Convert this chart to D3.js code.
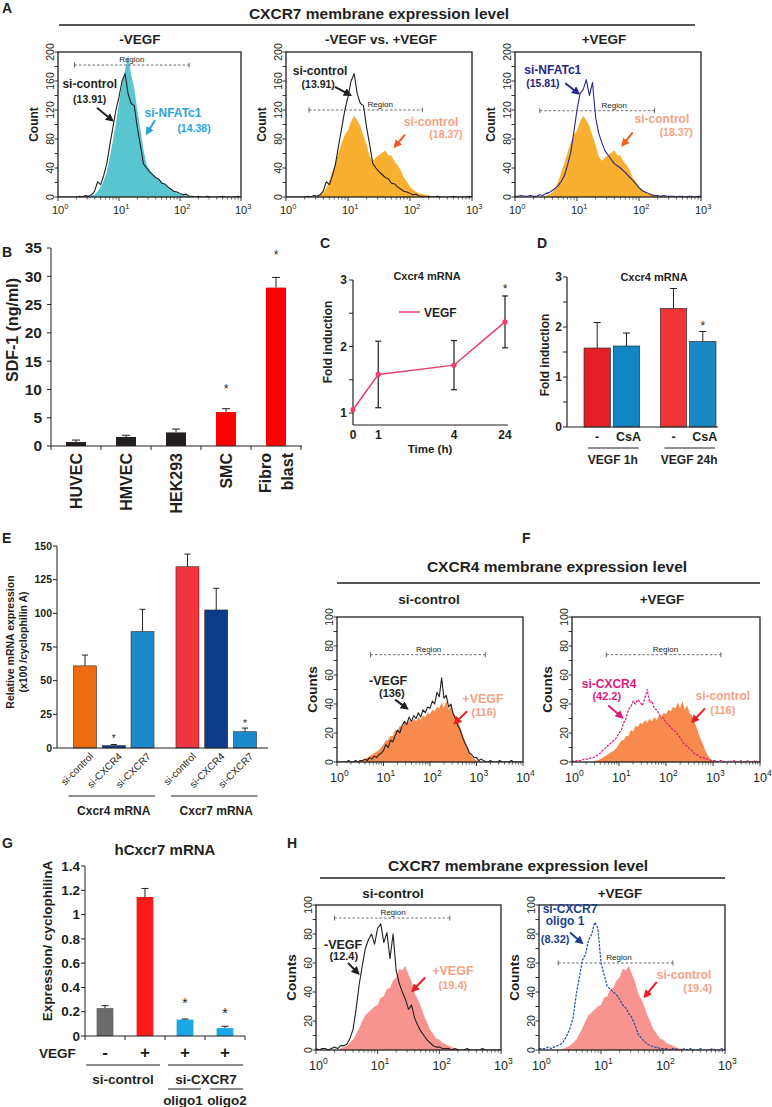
<!DOCTYPE html>
<html>
<head>
<meta charset="utf-8">
<script src="https://cdn.jsdelivr.net/npm/d3@7"></script>
<style>
  body { margin: 0; background: #fff; }
  svg { display: block; font-family: "Liberation Sans", Arial, Helvetica, sans-serif; }
</style>
</head>
<body>
<svg id="fig" width="772" height="1107"></svg>
<script>
// ---- flow histograms: counts on a 0.05-decade grid starting at 10^0 ----
const LOG_STEP = 0.05;

// A: CXCR7, 3 decades
const histA_control = [0,0,0,0,0,0,0,1,0,2, 1,3,8,21,17,30,46,72,96,120, 138,160,170,142,129,126,96,72,46,40,
  35,31,27,25,19,18,14,11,8,7, 5,3,4,1,1,0,1,0,0,1, 0,0,0,0,1,0,0,0,0,1, 0];
const histA_nfat = [0,0,0,0,0,0,0,0,0,1, 1,2,3,8,14,22,35,55,78,102, 130,156,176,196,168,150,120,94,66,46,
  38,32,28,25,22,18,15,11,8,6, 4,3,2,1,1,0,0,0,0,0, 0,0,0,0,0,0,0,0,0,0, 0];
const histA_controlVegf = [0,0,0,0,0,0,0,0,0,0, 1,3,6,12,22,35,48,62,75,86, 92,104,112,106,98,84,72,56,50,54,
  58,61,64,58,57,49,44,37,27,21, 14,10,7,5,4,3,2,1,1,0, 0,0,0,0,0,0,0,0,0,0, 0];
const histA_nfatVegf = [1,1,2,1,1,2,1,1,3,2, 5,6,9,12,16,22,30,45,62,90, 120,143,148,162,140,158,110,88,75,64,
  58,52,46,43,40,36,32,27,23,18, 13,9,7,5,3,2,2,1,2,1, 1,1,0,1,1,0,1,1,0,1, 1];

// F: CXCR4, 4 decades
const histF_minus = [0,0,0,0,0,1,0,0,1,0, 1,1,2,1,3,2,4,3,5,6, 8,12,10,15,14,18,22,20,25,28,
  26,31,28,32,30,34,31,36,34,38, 37,42,40,48,45,58,44,46,38,40, 33,30,25,22,17,13,10,6,5,3,
  3,1,2,1,0,0,1,0,0,0, 1,0,0,0,0,1,0,0,0,0, 0];
const histF_plus = [0,0,0,0,0,0,0,0,0,0, 1,1,2,3,4,5,6,7,8,10, 12,15,15,18,18,22,21,25,24,27,
  26,29,27,30,28,31,29,32,31,34, 33,36,35,38,37,41,37,42,36,39, 34,32,28,24,19,15,11,7,4,2,
  1,1,0,0,0,0,0,0,0,0, 0,0,0,0,0,0,0,0,0,0, 0];
const histF_siCxcr4 = [1,0,1,1,1,2,2,2,3,3, 4,5,6,8,9,11,12,14,15,17, 20,22,27,30,36,38,42,40,43,41,
  39,44,50,41,42,37,36,33,31,30, 27,26,24,22,21,19,17,14,12,11, 9,8,6,5,4,3,3,2,2,1,
  1,1,0,1,1,0,0,1,0,1, 0,0,1,0,0,1,0,0,1,0, 0];

// H: CXCR7 knock-down, 3 decades
const histH_minus = [1,0,1,1,0,1,2,1,3,3, 4,8,14,28,45,58,70,76,80,73, 84,87,74,81,63,80,55,46,40,35,
  28,31,22,17,13,10,7,5,3,2, 2,1,1,1,0,1,0,0,0,1, 0,0,0,0,1,0,0,0,0,0, 0];
const histH_plus = [0,0,0,0,0,0,0,0,1,2, 3,5,7,11,15,20,24,26,28,30, 31,36,37,42,43,48,50,56,55,58,
  52,47,39,35,30,24,19,14,11,8, 7,5,4,3,2,1,1,0,0,0, 0,0,0,0,0,0,0,0,0,0, 0];
const histH_oligo1 = [1,1,1,2,1,2,3,4,6,10, 15,22,38,50,62,66,76,80,88,84, 60,52,44,42,40,38,35,31,29,25,
  22,17,11,8,6,4,3,2,2,1, 1,1,0,1,1,0,0,1,0,1, 0,0,1,0,0,0,1,0,0,1, 0];

// B: SDF-1 secretion
const sdfCells = ["HUVEC", "HMVEC", "HEK293", "SMC", "Fibro blast"];
const sdfValues = [0.7, 1.6, 2.4, 6.0, 28.0];
const sdfErrTop = [1.05, 1.9, 3.0, 6.6, 29.8];
const sdfStars = [null, null, null, 10.3, 34.0];
const sdfTicks = [0, 5, 10, 15, 20, 25, 30, 35];

// C: Cxcr4 mRNA time course
const cTimes = [0, 1, 4, 24];
const cMeans = [1.05, 1.58, 1.72, 2.37];
const cErr = [0, 0.5, 0.37, 0.39];
const cTicks = [1, 1.5, 2, 2.5, 3];

// D: Cxcr4 mRNA with CsA
const dGroups = ["VEGF 1h", "VEGF 24h"];
const dTreatments = ["-", "CsA"];
const dValues = [[1.58, 1.62], [2.37, 1.71]];
const dErrTop = [[2.09, 1.88], [2.77, 1.91]];
const dStars = [[null, null], [null, 2.05]];
const dTicks = [0, 0.5, 1, 1.5, 2, 2.5, 3];

// E: relative mRNA expression
const eGroups = ["Cxcr4 mRNA", "Cxcr7 mRNA"];
const eSirna = ["si-control", "si-CXCR4", "si-CXCR7"];
const eValues = [[61, 1.8, 86.5], [134.6, 102.5, 12.1]];
const eErrTop = [[69, 2.6, 103], [144, 118.6, 14.8]];
const eStars = [[null, 7.4, null], [null, null, 18.8]];
const eTicks = [0, 25, 50, 75, 100, 125, 150];

// G: hCxcr7 mRNA
const gBars = ["ctrl-", "ctrl+", "oligo1", "oligo2"];
const gVegf = ["-", "+", "+", "+"];
const gValues = [0.23, 1.145, 0.135, 0.065];
const gErrTop = [0.25, 1.215, 0.14, 0.08];
const gStars = [null, null, 0.28, 0.195];
const gTicks = [0, 0.2, 0.4, 0.6, 0.8, 1, 1.2, 1.4];

// ---- colours ----
const INK = "#231f20";
const CYAN_FILL = "#58c5cf";
const CYAN_TEXT = "#27a6dc";
const ORANGE_A = "#f9b031";
const SALMON = "#f7a284";
const ORANGE_ARROW = "#f15a22";
const NAVY = "#25288a";
const ORANGE_F = "#f78b4e";
const MAGENTA = "#e4197c";
const PINK_H = "#f7948f";
const RED = "#ec1c24";
const BLUE_H = "#1f4f9f";
const NAVY_H = "#1e3f8f";
const sdfPalette = [INK, INK, INK, "#ff0000", "#ff0000"];
const dPalette = [["#e41f26", "#1085c2"], ["#ef3535", "#1a87c4"]];
const ePalette = [["#ef6b0f", "#0c3b8c", "#1b8acb"], ["#f2343f", "#0c3b8c", "#1b8acb"]];
const gPalette = ["#6b6b6b", "#ff1a1a", "#1aa7e6", "#1aa7e6"];

const svg = d3.select("#fig");
const defs = svg.append("defs");

function label(parent, x, y, str, o = {}) {
  const t = parent.append("text")
    .attr("x", x)
    .attr("y", y)
    .attr("font-size", o.size || 12)
    .attr("font-weight", o.weight || "bold")
    .attr("text-anchor", o.anchor || "middle")
    .attr("fill", o.color || INK)
    .text(str);
  if (o.rotate) t.attr("transform", `rotate(${o.rotate},${x},${y})`);
  if (o.dy) t.attr("dy", o.dy);
  return t;
}

function line(parent, x1, y1, x2, y2, o = {}) {
  return parent.append("line")
    .attr("x1", x1).attr("y1", y1).attr("x2", x2).attr("y2", y2)
    .attr("stroke", o.color || INK)
    .attr("stroke-width", o.width || 1)
    .attr("stroke-dasharray", o.dash || null);
}

function arrowMarker(color) {
  const id = "arrow-" + color.replace("#", "");
  if (defs.select("#" + id).empty()) {
    defs.append("marker")
      .attr("id", id)
      .attr("viewBox", "0 0 10 10")
      .attr("refX", 7)
      .attr("refY", 5)
      .attr("markerWidth", 4.2)
      .attr("markerHeight", 4.2)
      .attr("orient", "auto")
      .append("path")
      .attr("d", "M0,0 L10,5 L0,10 z")
      .attr("fill", color);
  }
  return id;
}

function errorBar(g, cx, yTop, yEnd, cap) {
  line(g, cx, yTop, cx, yEnd, { width: 1 });
  line(g, cx - cap, yEnd, cx + cap, yEnd, { width: 1 });
}

function groupTitle(title, cx, ty, lineY, x1, x2, subs) {
  const g = svg.append("g");
  label(g, cx, ty, title, { size: 15.5 });
  line(g, x1, lineY, x2, lineY, { width: 1.3 });
  subs.forEach((s) => label(g, s.x, s.y, s.text, { size: 13.5 }));
}

function drawHistogram(cfg) {
  const g = svg.append("g");
  const x = d3.scaleLinear().domain([0, cfg.decades]).range([cfg.left, cfg.right]);
  const y = d3.scaleLinear().domain([0, cfg.yMax]).range([cfg.bottom, cfg.top]);

  const clipId = `clip-${cfg.id}`;
  defs.append("clipPath").attr("id", clipId)
    .append("rect")
    .attr("x", cfg.left).attr("y", cfg.top)
    .attr("width", cfg.right - cfg.left).attr("height", cfg.bottom - cfg.top);

  const plot = g.append("g").attr("clip-path", `url(#${clipId})`);
  const px = (d, i) => x(i * LOG_STEP);

  cfg.layers.forEach((layer) => {
    if (layer.fill) {
      plot.append("path").datum(layer.counts)
        .attr("d", d3.area().x(px).y0(y(0)).y1((d) => y(d)))
        .attr("fill", layer.fill);
    } else {
      plot.append("path").datum(layer.counts)
        .attr("d", d3.line().x(px).y((d) => y(d)))
        .attr("fill", "none")
        .attr("stroke", layer.stroke)
        .attr("stroke-width", layer.width || 1.1)
        .attr("stroke-dasharray", layer.dash || null)
        .attr("stroke-linejoin", "round");
    }
  });

  // region marker
  const r = cfg.region;
  line(g, x(r.from), y(r.level), x(r.to), y(r.level), { color: "#444", width: 0.8, dash: "2.5,2" });
  line(g, x(r.from), y(r.level) - 2.5, x(r.from), y(r.level) + 2.5, { color: "#444", width: 0.8 });
  line(g, x(r.to), y(r.level) - 2.5, x(r.to), y(r.level) + 2.5, { color: "#444", width: 0.8 });
  label(g, x(r.labelAt), y(r.level) - 3, "Region", { size: 8, weight: "normal" });

  // frame
  g.append("rect")
    .attr("x", cfg.left).attr("y", cfg.top)
    .attr("width", cfg.right - cfg.left).attr("height", cfg.bottom - cfg.top)
    .attr("fill", "none").attr("stroke", INK).attr("stroke-width", 1.3);

  // y ticks
  const yTicks = d3.range(0, cfg.yMax + 1, cfg.yMinor);
  yTicks.forEach((v) => line(g, cfg.left - 3.5, y(v), cfg.left, y(v), { width: 0.9 }));
  yTicks.filter((v) => v % cfg.yLabelStep === 0).forEach((v) => {
    label(g, cfg.left - 4, y(v), String(v), { size: 10.5, weight: "normal", rotate: -90 });
  });
  label(g, cfg.left - 20, (cfg.top + cfg.bottom) / 2, cfg.ylabel, { size: cfg.ylabelSize, rotate: -90 });

  // x ticks (log)
  for (let d = 0; d <= cfg.decades; d++) {
    line(g, x(d), cfg.bottom, x(d), cfg.bottom + 4, { width: 0.9 });
    if (d < cfg.decades) {
      for (let k = 2; k <= 9; k++) {
        const xv = x(d + Math.log10(k));
        line(g, xv, cfg.bottom, xv, cfg.bottom + 2.5, { width: 0.7 });
      }
    }
    const fs = cfg.xLabelSize;
    const t = g.append("text")
      .attr("x", x(d) - 0.556 * fs)
      .attr("y", cfg.bottom + cfg.xLabelDy)
      .attr("font-size", fs)
      .attr("fill", INK);
    t.append("tspan").text("10");
    t.append("tspan").attr("dy", -fs * 0.45).attr("font-size", fs * 0.68).text(d);
  }

  // annotations
  cfg.notes.forEach((n) => {
    label(g, x(n.at[0]), y(n.at[1]), n.text, { size: n.size || 12, color: n.color || INK });
  });
  cfg.arrows.forEach((a) => {
    const c = a.color || INK;
    line(g, x(a.from[0]), y(a.from[1]), x(a.to[0]), y(a.to[1]), { color: c, width: 2 })
      .attr("marker-end", `url(#${arrowMarker(c)})`);
  });
}

// ---------------- A ----------------
function drawPanelA() {
  groupTitle("CXCR7 membrane expression level", 379, 19, 25, 59, 695, [
    { text: "-VEGF", x: 140, y: 44 },
    { text: "-VEGF vs. +VEGF", x: 381, y: 44 },
    { text: "+VEGF", x: 604, y: 44 }
  ]);
  const base = { top: 52, bottom: 197, decades: 3, yMax: 200, yMinor: 20, yLabelStep: 40,
    ylabel: "Count", ylabelSize: 12, xLabelSize: 11, xLabelDy: 17 };

  drawHistogram({ ...base, id: "a1", left: 58, right: 241,
    layers: [{ counts: histA_nfat, fill: CYAN_FILL }, { counts: histA_control, stroke: INK }],
    region: { from: 0.27, to: 2.15, level: 182, labelAt: 1.21 },
    notes: [
      { text: "si-control", at: [0.52, 150] },
      { text: "(13.91)", at: [0.52, 129], size: 10.5 },
      { text: "si-NFATc1", at: [1.885, 110], color: CYAN_TEXT },
      { text: "(14.38)", at: [2.23, 90], color: CYAN_TEXT, size: 10.5 }
    ],
    arrows: [
      { from: [0.64, 123], to: [0.885, 106] },
      { from: [1.59, 106], to: [1.46, 88], color: CYAN_TEXT }
    ]
  });

  drawHistogram({ ...base, id: "a2", left: 286, right: 472,
    layers: [{ counts: histA_controlVegf, fill: ORANGE_A }, { counts: histA_control, stroke: INK }],
    region: { from: 0.37, to: 2.2, level: 120, labelAt: 1.52 },
    notes: [
      { text: "si-control", at: [0.55, 168] },
      { text: "(13.91)", at: [0.52, 150], size: 10.5 },
      { text: "si-control", at: [2.34, 98], color: SALMON },
      { text: "(18.37)", at: [2.58, 81], color: SALMON, size: 10.5 }
    ],
    arrows: [
      { from: [0.79, 152], to: [1.03, 141] },
      { from: [1.92, 86], to: [1.76, 70], color: ORANGE_ARROW }
    ]
  });

  drawHistogram({ ...base, id: "a3", left: 515, right: 701,
    layers: [{ counts: histA_controlVegf, fill: ORANGE_A }, { counts: histA_nfatVegf, stroke: NAVY }],
    region: { from: 0.4, to: 2.25, level: 119, labelAt: 1.6 },
    notes: [
      { text: "si-NFATc1", at: [0.61, 169], color: NAVY },
      { text: "(15.81)", at: [0.45, 152], color: NAVY, size: 10.5 },
      { text: "si-control", at: [2.37, 102], color: SALMON },
      { text: "(18.37)", at: [2.6, 84], color: SALMON, size: 10.5 }
    ],
    arrows: [
      { from: [0.81, 157], to: [1.02, 143], color: NAVY },
      { from: [1.9, 89], to: [1.74, 72], color: ORANGE_ARROW }
    ]
  });
}

// ---------------- B ----------------
function drawPanelB() {
  const g = svg.append("g");
  const x = d3.scaleBand().domain(sdfCells).range([51, 301]).paddingInner(0.6).paddingOuter(0.3);
  const y = d3.scaleLinear().domain([0, 35]).range([446, 248]);

  g.selectAll("rect").data(sdfCells).join("rect")
    .attr("x", (d) => x(d))
    .attr("width", x.bandwidth())
    .attr("y", (d, i) => y(sdfValues[i]))
    .attr("height", (d, i) => y(0) - y(sdfValues[i]))
    .attr("fill", (d, i) => sdfPalette[i]);

  sdfCells.forEach((d, i) => {
    const cx = x(d) + x.bandwidth() / 2;
    errorBar(g, cx, y(sdfValues[i]), y(sdfErrTop[i]), 4);
    if (sdfStars[i] !== null) label(g, cx, y(sdfStars[i]) + 5, "*", { size: 12, weight: "normal" });
    const parts = d.split(" ");
    parts.forEach((p, j) => {
      const lx = cx + (j - (parts.length - 1) / 2) * 22;
      label(g, lx, 453, p, { size: 16, anchor: "end", rotate: -90, dy: "0.35em" });
    });
  });

  line(g, 51, y(0), 51, y(35), { width: 1 });
  line(g, 51, y(0), 302, y(0), { width: 1 });
  sdfTicks.forEach((v) => {
    line(g, 47, y(v), 51, y(v));
    label(g, 42, y(v), String(v), { size: 15.5, anchor: "end", dy: "0.35em" });
  });
  d3.range(sdfCells.length + 1).forEach((i) => {
    const xv = x.range()[0] + i * x.step();
    line(g, xv, y(0), xv, y(0) + 4);
  });
  label(g, 12, 330, "SDF-1 (ng/ml)", { size: 16, rotate: -90, dy: "0.35em" });
}

// ---------------- C ----------------
function drawPanelC() {
  const g = svg.append("g");
  const x = d3.scaleLinear().domain([0, 4, 24]).range([353, 454, 505]);
  const y = d3.scaleLinear().domain([0.82, 3]).range([425, 280]);

  label(g, 427, 280, "Cxcr4 mRNA", { size: 11 });
  line(g, 353, y(0.82), 353, y(3), { width: 1.2 });
  line(g, 353, y(0.82), 508, y(0.82), { width: 1.2 });
  cTicks.forEach((v) => {
    line(g, 349, y(v), 353, y(v));
    if (Number.isInteger(v)) label(g, 347, y(v), String(v), { size: 12, anchor: "end", dy: "0.35em" });
  });
  cTimes.forEach((t) => label(g, x(t), 438.5, String(t), { size: 12 }));
  label(g, 430, 452.5, "Time (h)", { size: 11.5 });
  label(g, 328, 342, "Fold induction", { size: 12, rotate: -90, dy: "0.35em" });

  cTimes.forEach((t, i) => {
    if (cErr[i] > 0) {
      line(g, x(t), y(cMeans[i] - cErr[i]), x(t), y(cMeans[i] + cErr[i]), { width: 1.2 });
      line(g, x(t) - 3, y(cMeans[i] - cErr[i]), x(t) + 3, y(cMeans[i] - cErr[i]), { width: 1.2 });
      line(g, x(t) - 3, y(cMeans[i] + cErr[i]), x(t) + 3, y(cMeans[i] + cErr[i]), { width: 1.2 });
    }
  });
  const pts = cTimes.map((t, i) => [t, cMeans[i]]);
  g.append("path").datum(pts)
    .attr("d", d3.line().x((d) => x(d[0])).y((d) => y(d[1])))
    .attr("fill", "none").attr("stroke", "#e8426a").attr("stroke-width", 1.5);
  g.selectAll("circle").data(pts).join("circle")
    .attr("cx", (d) => x(d[0])).attr("cy", (d) => y(d[1])).attr("r", 2.6).attr("fill", "#e8426a");
  label(g, x(24), y(2.88) + 5, "*", { size: 12, weight: "normal" });

  line(g, 399, 312, 420, 312, { color: "#e8426a", width: 1.5 });
  label(g, 424, 316.5, "VEGF", { size: 12, anchor: "start" });
}

// ---------------- D ----------------
function drawPanelD() {
  const g = svg.append("g");
  const xg = d3.scaleBand().domain(dGroups).range([584, 716]).paddingInner(0.27);
  const xt = d3.scaleBand().domain(dTreatments).range([0, xg.bandwidth()]).paddingInner(0.1);
  const y = d3.scaleLinear().domain([0, 3]).range([427, 277]);

  label(g, 654, 281, "Cxcr4 mRNA", { size: 11 });

  dGroups.forEach((grp, gi) => {
    dTreatments.forEach((tr, ti) => {
      const bx = xg(grp) + xt(tr);
      const cx = bx + xt.bandwidth() / 2;
      g.append("rect")
        .attr("x", bx).attr("width", xt.bandwidth())
        .attr("y", y(dValues[gi][ti])).attr("height", y(0) - y(dValues[gi][ti]))
        .attr("fill", dPalette[gi][ti]).attr("stroke", "#333").attr("stroke-width", 0.7);
      errorBar(g, cx, y(dValues[gi][ti]), y(dErrTop[gi][ti]), 3.5);
      if (dStars[gi][ti] !== null) label(g, cx, y(dStars[gi][ti]) + 5, "*", { size: 12, weight: "normal" });
      label(g, cx + (ti === 1 ? 2 : 0), 441, tr, { size: 12.5 });
    });
    line(g, xg(grp) + 4, 448, xg(grp) + xg.bandwidth() - 1, 448, { width: 1 });
    label(g, xg(grp) + xg.bandwidth() / 2 + 1, 464, grp, { size: 12 });
  });

  line(g, 567, y(0), 567, y(3), { width: 1.2 });
  line(g, 567, y(0), 718, y(0), { width: 1.2 });
  dTicks.forEach((v) => {
    line(g, 563, y(v), 567, y(v));
    if (Number.isInteger(v)) label(g, 562, y(v), String(v), { size: 12, anchor: "end", dy: "0.35em" });
  });
  label(g, 545, 355, "Fold induction", { size: 12, rotate: -90, dy: "0.35em" });
}

// ---------------- E ----------------
function drawPanelE() {
  const g = svg.append("g");
  const xg = d3.scaleBand().domain(eGroups).range([73.5, 256.5]).paddingInner(0.214);
  const xs = d3.scaleBand().domain(eSirna).range([0, xg.bandwidth()]).paddingInner(0.2);
  const y = d3.scaleLinear().domain([0, 150]).range([748, 546]);

  eGroups.forEach((grp, gi) => {
    eSirna.forEach((s, si) => {
      const bx = xg(grp) + xs(s);
      const cx = bx + xs.bandwidth() / 2;
      g.append("rect")
        .attr("x", bx).attr("width", xs.bandwidth())
        .attr("y", y(eValues[gi][si])).attr("height", y(0) - y(eValues[gi][si]))
        .attr("fill", ePalette[gi][si]).attr("stroke", "#333").attr("stroke-width", 0.6);
      errorBar(g, cx, y(eValues[gi][si]), y(eErrTop[gi][si]), 3);
      if (eStars[gi][si] !== null) label(g, cx, y(eStars[gi][si]) + 4, "*", { size: 10, weight: "normal" });
      label(g, cx + 9, 757, s, { size: 10, weight: "normal", anchor: "end", rotate: -45 });
    });
    line(g, xg(grp) - 5, 796, xg(grp) + xg.bandwidth() + 1, 796, { width: 1 });
    label(g, xg(grp) + xg.bandwidth() / 2, 815, grp, { size: 12 });
  });

  line(g, 57, y(0), 57, y(150), { width: 1 });
  line(g, 57, y(0), 268, y(0), { width: 1 });
  eTicks.forEach((v) => {
    line(g, 53, y(v), 57, y(v));
    label(g, 52, y(v), String(v), { size: 10.5, anchor: "end", dy: "0.35em" });
  });
  label(g, 10, 642, "Relative mRNA expression", { size: 10.5, rotate: -90, dy: "0.35em" });
  label(g, 23, 642, "(x100 /cyclophilin A)", { size: 10.5, rotate: -90, dy: "0.35em" });
}

// ---------------- F ----------------
function drawPanelF() {
  groupTitle("CXCR4 membrane expression level", 557, 572, 583, 337, 760, [
    { text: "si-control", x: 429, y: 604 },
    { text: "+VEGF", x: 662, y: 604 }
  ]);
  const base = { top: 617, bottom: 762, decades: 4, yMax: 100, yMinor: 10, yLabelStep: 20,
    ylabel: "Counts", ylabelSize: 13.5, xLabelSize: 12.5, xLabelDy: 20 };

  drawHistogram({ ...base, id: "f1", left: 337, right: 523,
    layers: [{ counts: histF_plus, fill: ORANGE_F }, { counts: histF_minus, stroke: INK }],
    region: { from: 0.72, to: 3.19, level: 74, labelAt: 1.97 },
    notes: [
      { text: "-VEGF", at: [1.1, 53], size: 12.5 },
      { text: "(136)", at: [1.18, 45], size: 11 },
      { text: "+VEGF", at: [3.14, 41], color: SALMON, size: 12.5 },
      { text: "(116)", at: [3.16, 32], color: SALMON, size: 11 }
    ],
    arrows: [
      { from: [1.25, 43], to: [1.5, 37] },
      { from: [2.8, 35], to: [2.54, 27], color: RED }
    ]
  });

  drawHistogram({ ...base, id: "f2", left: 572, right: 760,
    layers: [{ counts: histF_plus, fill: ORANGE_F }, { counts: histF_siCxcr4, stroke: MAGENTA, dash: "2.5,1.2", width: 1.2 }],
    region: { from: 0.73, to: 3.17, level: 74, labelAt: 1.99 },
    notes: [
      { text: "si-CXCR4", at: [0.79, 51], color: MAGENTA },
      { text: "(42.2)", at: [0.74, 43], color: MAGENTA, size: 11 },
      { text: "si-control", at: [3.21, 43], color: SALMON },
      { text: "(116)", at: [3.21, 33], color: SALMON, size: 11 }
    ],
    arrows: [
      { from: [0.77, 39], to: [1.06, 31], color: MAGENTA },
      { from: [2.83, 37], to: [2.57, 28], color: RED }
    ]
  });
}

// ---------------- G ----------------
function drawPanelG() {
  const g = svg.append("g");
  const x = d3.scaleBand().domain(gBars).range([85, 245]).paddingInner(0.58).paddingOuter(0.29);
  const y = d3.scaleLinear().domain([0, 1.4]).range([1036, 866]);

  label(g, 165, 855, "hCxcr7 mRNA", { size: 15 });

  g.selectAll("rect").data(gBars).join("rect")
    .attr("x", (d) => x(d)).attr("width", x.bandwidth())
    .attr("y", (d, i) => y(gValues[i])).attr("height", (d, i) => y(0) - y(gValues[i]))
    .attr("fill", (d, i) => gPalette[i]);

  gBars.forEach((d, i) => {
    const cx = x(d) + x.bandwidth() / 2;
    errorBar(g, cx, y(gValues[i]), y(gErrTop[i]), 3.5);
    if (gStars[i] !== null) label(g, cx, y(gStars[i]) + 6, "*", { size: 14, weight: "normal" });
    label(g, cx, 1058, gVegf[i], { size: 17 });
  });

  line(g, 85, y(0), 85, y(1.4), { width: 1 });
  line(g, 85, y(0), 245, y(0), { width: 1 });
  gTicks.forEach((v) => {
    line(g, 81, y(v), 85, y(v));
    label(g, 80, y(v), String(v), { size: 13.5, anchor: "end", dy: "0.35em" });
  });
  d3.range(gBars.length + 1).forEach((i) => {
    const xv = x.range()[0] + i * x.step();
    line(g, xv, y(0), xv, y(0) + 4);
  });

  label(g, 39, 1058, "VEGF", { size: 13.5, anchor: "start" });
  line(g, 86, 1065, 160, 1065);
  line(g, 168, 1065, 243, 1065);
  label(g, 123, 1084, "si-control", { size: 13.5 });
  label(g, 206, 1084, "si-CXCR7", { size: 13.5 });
  line(g, 168, 1089, 201, 1089);
  line(g, 210, 1089, 243, 1089);
  label(g, 183, 1105, "oligo1", { size: 13.5 });
  label(g, 227, 1105, "oligo2", { size: 13.5 });
  label(g, 47, 941, "Expression/ cyclophilinA", { size: 13.5, rotate: -90, dy: "0.35em" });
}

// ---------------- H ----------------
function drawPanelH() {
  groupTitle("CXCR7 membrane expression level", 518, 871, 878, 320, 725, [
    { text: "si-control", x: 393, y: 898 },
    { text: "+VEGF", x: 620, y: 898 }
  ]);
  const base = { top: 905, bottom: 1050, decades: 3, yMax: 100, yMinor: 10, yLabelStep: 20,
    ylabel: "Counts", ylabelSize: 13.5, xLabelSize: 12.5, xLabelDy: 20 };

  drawHistogram({ ...base, id: "h1", left: 316, right: 501,
    layers: [{ counts: histH_plus, fill: PINK_H }, { counts: histH_minus, stroke: INK }],
    region: { from: 0.3, to: 2.17, level: 91, labelAt: 1.25 },
    notes: [
      { text: "-VEGF", at: [0.44, 70], size: 12.5 },
      { text: "(12.4)", at: [0.45, 62], size: 11 },
      { text: "+VEGF", at: [2.22, 52], color: SALMON, size: 12.5 },
      { text: "(19.4)", at: [2.22, 42], color: SALMON, size: 11 }
    ],
    arrows: [
      { from: [0.52, 60], to: [0.68, 53] },
      { from: [1.77, 50], to: [1.57, 41], color: RED }
    ]
  });

  drawHistogram({ ...base, id: "h2", left: 539, right: 725,
    layers: [{ counts: histH_plus, fill: PINK_H }, { counts: histH_oligo1, stroke: BLUE_H, dash: "2.5,1.2", width: 1.2 }],
    region: { from: 0.31, to: 2.16, level: 60, labelAt: 1.29 },
    notes: [
      { text: "si-CXCR7", at: [0.5, 94.5], color: NAVY_H },
      { text: "oligo 1", at: [0.42, 86], color: NAVY_H },
      { text: "(8.32)", at: [0.26, 73.5], color: NAVY_H, size: 11 },
      { text: "si-control", at: [2.34, 49], color: SALMON },
      { text: "(19.4)", at: [2.56, 40], color: SALMON, size: 11 }
    ],
    arrows: [
      { from: [0.5, 81], to: [0.69, 74], color: NAVY_H },
      { from: [1.9, 47], to: [1.71, 37], color: RED }
    ]
  });
}

// panel letters
const panelLetters = [["A", 2, 13], ["B", 2, 257], ["C", 320, 248], ["D", 537, 248],
  ["E", 2, 543], ["F", 522, 543], ["G", 2, 848], ["H", 287, 848]];

drawPanelA();
drawPanelB();
drawPanelC();
drawPanelD();
drawPanelE();
drawPanelF();
drawPanelG();
drawPanelH();
panelLetters.forEach(([t, x, y]) => label(svg, x, y, t, { size: 14, anchor: "start" }));
</script>
</body>
</html>
